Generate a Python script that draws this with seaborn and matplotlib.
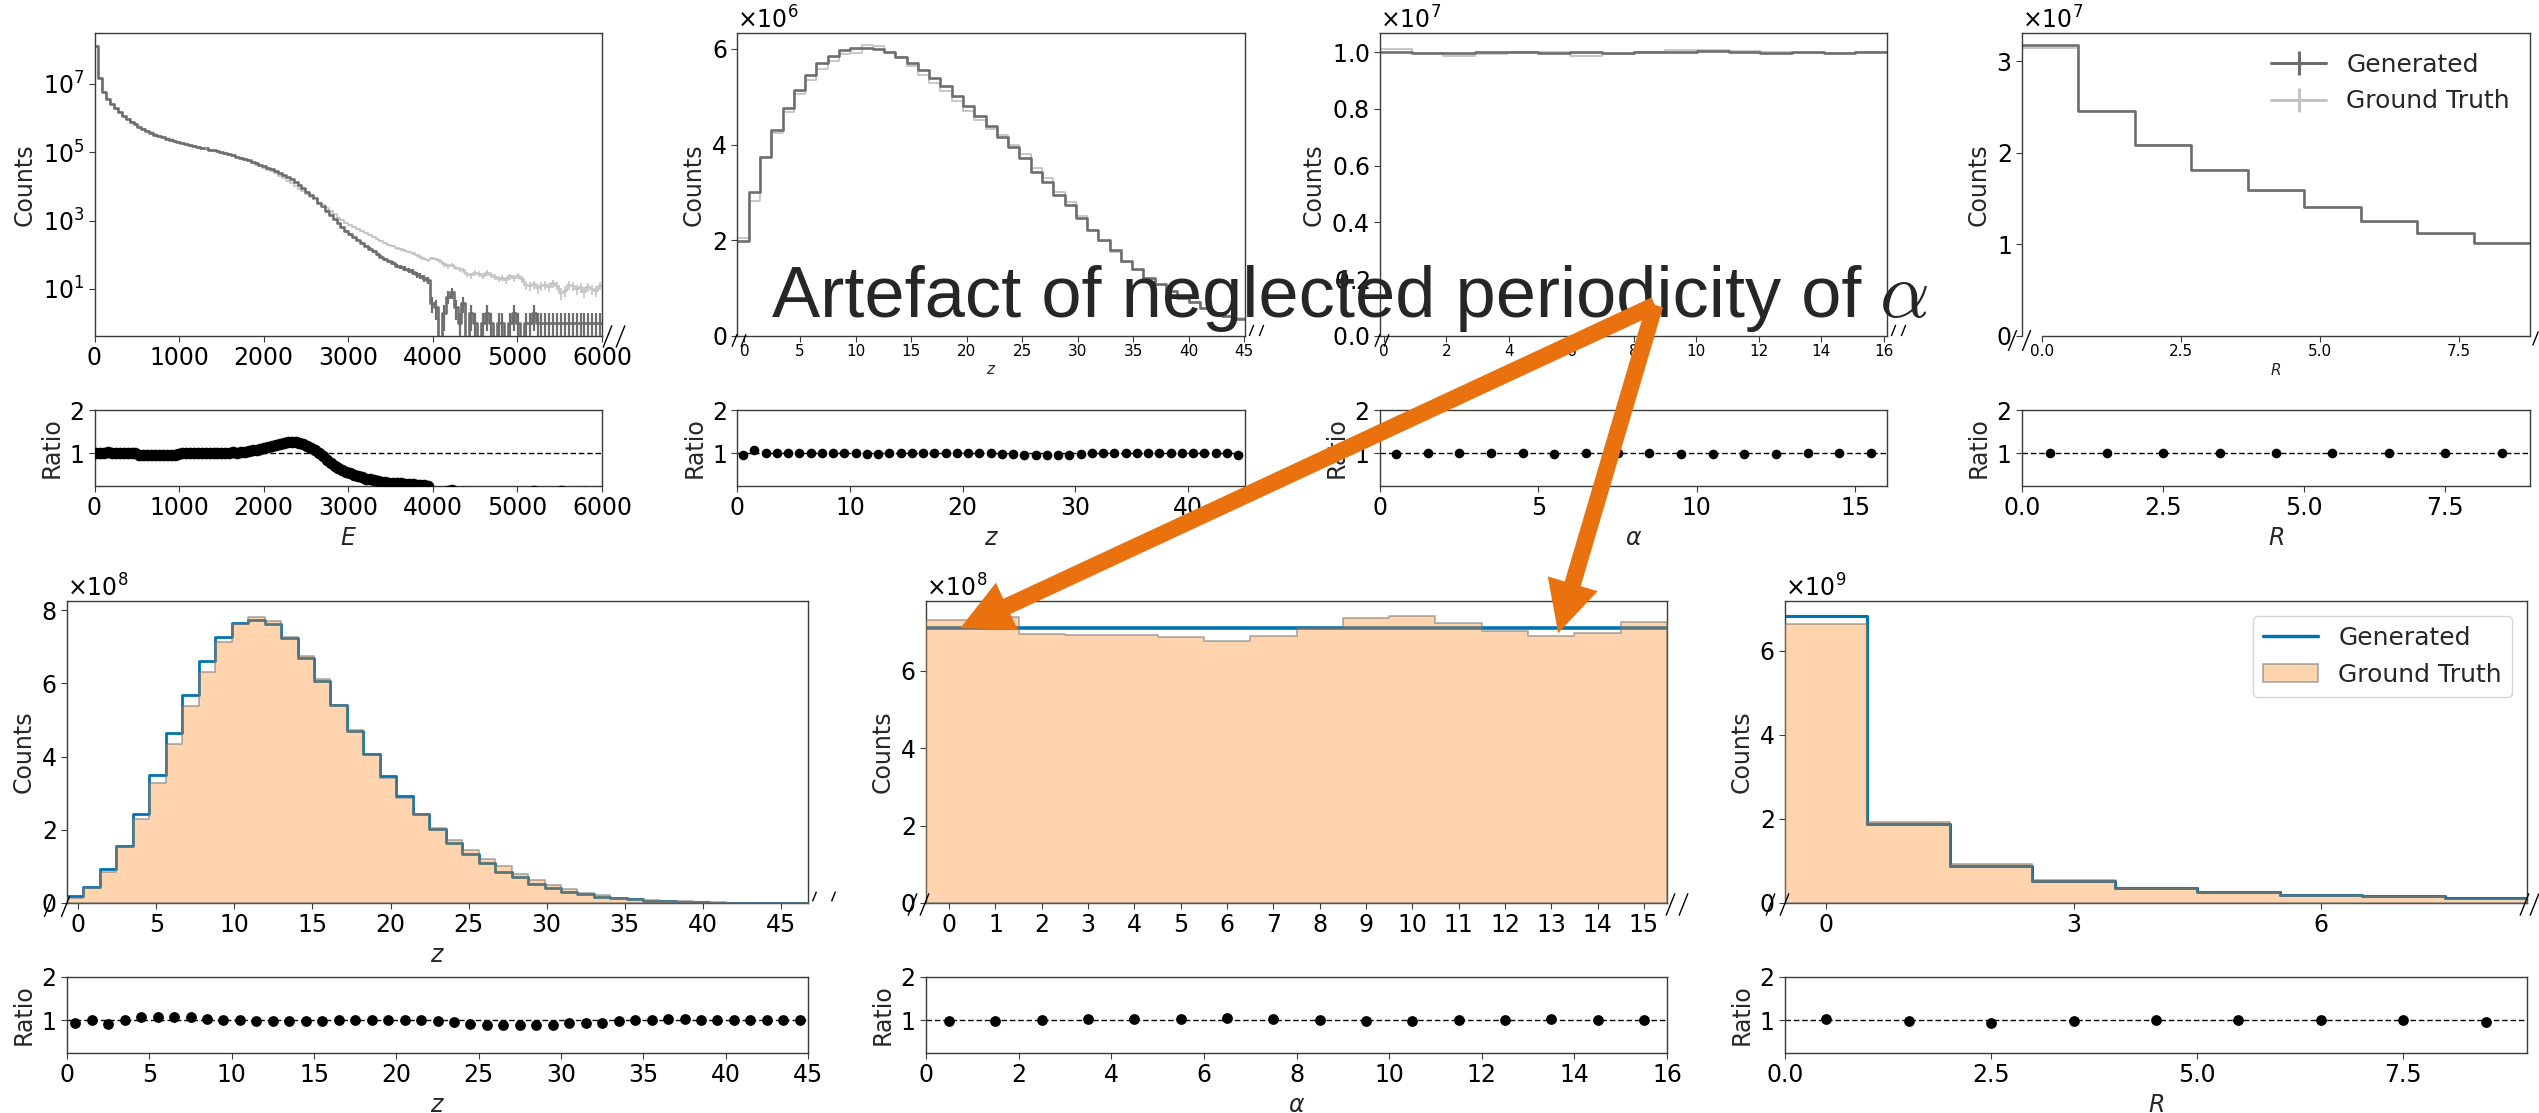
import numpy as np
import matplotlib
matplotlib.use("Agg")
import matplotlib.pyplot as plt
import matplotlib.transforms as mtransforms
from matplotlib.lines import Line2D
from matplotlib.patches import Patch
from matplotlib.ticker import MultipleLocator, FixedLocator, NullLocator
import seaborn as sns

# ------------------------------------------------------------------
# Data: binned counts of generated showers vs. ground truth
# ------------------------------------------------------------------
LABELS = ["Generated", "Ground Truth"]
HEADLINE = "Artefact of neglected periodicity of"

# Energy spectrum (log10 of ground-truth counts per bin, 0 .. 6000)
E_truth_log10 = [
    8.10, 7.17, 6.77, 6.55, 6.40, 6.28, 6.17, 6.06, 5.97, 5.89,
    5.82, 5.75, 5.69, 5.63, 5.58, 5.53, 5.49, 5.45, 5.41, 5.38,
    5.34, 5.30, 5.26, 5.23, 5.21, 5.18, 5.16, 5.13, 5.11, 5.08,
    5.05, 5.03, 4.99, 4.96, 4.93, 4.90, 4.86, 4.82, 4.78, 4.74,
    4.69, 4.64, 4.59, 4.54, 4.49, 4.44, 4.38, 4.31, 4.24, 4.17,
    4.10, 4.02, 3.94, 3.86, 3.78, 3.70, 3.62, 3.53, 3.45, 3.36,
    3.27, 3.18, 3.09, 3.01, 2.93, 2.87, 2.81, 2.75, 2.69, 2.63,
    2.58, 2.52, 2.45, 2.40, 2.34, 2.29, 2.25, 2.19, 2.16, 2.12,
    2.08, 2.04, 1.98, 1.94, 1.89, 1.84, 1.90, 1.87, 1.82, 1.72,
    1.66, 1.70, 1.62, 1.58, 1.55, 1.43, 1.40, 1.48, 1.45, 1.38,
    1.47, 1.42, 1.36, 1.30, 1.33, 1.25, 1.37, 1.31, 1.39, 1.28,
    1.12, 1.08, 1.14, 1.02, 1.08, 1.12, 1.06, 1.17, 1.10, 0.88,
    0.95, 1.12, 1.08, 1.00, 1.05, 0.92, 1.06, 1.00, 0.95, 1.10,
]
# generated / truth in the populated part of the spectrum
E_ratio = [
    1.02, 1.02, 1.02, 1.03, 1.02, 1.02, 1.02, 1.01, 1.02, 1.01,
    1.00, 0.97, 0.96, 0.96, 0.97, 0.96, 0.96, 0.97, 0.96, 0.97,
    0.97, 0.98, 1.00, 1.00, 1.01, 1.00, 1.00, 1.00, 1.01, 1.00,
    1.01, 1.01, 1.02, 1.02, 1.02, 1.03, 1.02, 1.03, 1.04, 1.05,
    1.07, 1.09, 1.11, 1.13, 1.15, 1.17, 1.20, 1.22, 1.24, 1.26,
    1.27, 1.26, 1.25, 1.22, 1.18, 1.13, 1.07, 1.00, 0.93, 0.85,
    0.79, 0.72, 0.67, 0.62, 0.58, 0.54, 0.50, 0.47, 0.45, 0.42,
    0.40, 0.38, 0.37, 0.35, 0.34, 0.33, 0.32, 0.31, 0.31, 0.30,
    0.29, 0.29, 0.28, 0.28, 0.27, 0.26,
]
# generated counts in the high-energy tail
E_gen_tail = [
    4, 3, 0, 2, 6, 8, 3, 1, 4, 0,
    2, 1, 0, 1, 2, 1, 0, 1, 1, 0,
    1, 2, 1, 0, 1, 1, 2, 1, 1, 1,
    1, 1, 1, 1, 1, 1, 1, 1, 1, 1,
    1, 1, 1, 1,
]
E_ticks = [0, 1000, 2000, 3000, 4000, 5000, 6000]
E_log_ticks = [1e1, 1e3, 1e5, 1e7]

# Layer z, first model (x 1e6)
z_top_gen = [1.99, 3.01, 3.74, 4.30, 4.76, 5.14, 5.45, 5.70, 5.85, 5.97,
             6.01, 6.01, 5.99, 5.94, 5.83, 5.70, 5.56, 5.40, 5.22, 5.01,
             4.80, 4.59, 4.38, 4.16, 3.95, 3.71, 3.43, 3.22, 2.94, 2.73,
             2.46, 2.22, 2.01, 1.80, 1.57, 1.40, 1.22, 1.08, 0.94, 0.80,
             0.70, 0.59, 0.49, 0.42, 0.35]
z_top_ratio = [0.97, 1.07, 1.00, 1.015, 1.015, 1.015, 1.02, 1.02, 1.02, 1.015,
               1.015, 0.99, 0.99, 1.00, 1.00, 1.01, 1.02, 1.02, 1.02, 1.02,
               1.02, 1.015, 1.015, 0.99, 0.99, 0.975, 0.975, 0.975, 0.975, 0.975,
               0.985, 1.00, 1.01, 1.02, 1.02, 1.02, 1.02, 1.02, 1.02, 1.00,
               1.00, 1.00, 1.00, 1.015, 0.955]

# Angle alpha, first model (x 1e7)
a_top_gen = [1.000, 0.997, 0.997, 1.000, 0.999, 0.998, 0.999, 0.997,
             1.000, 1.000, 1.002, 1.000, 0.998, 0.999, 0.997, 1.000]
a_top_truth = [1.012, 0.997, 0.985, 0.993, 1.000, 1.000, 0.987, 0.993,
               1.000, 1.008, 1.008, 1.005, 1.000, 0.997, 0.995, 1.001]

# Radius R, first model (x 1e7)
R_top_gen = [3.175, 2.46, 2.09, 1.81, 1.595, 1.41, 1.255, 1.12, 1.02]
R_top_ratio = [1.01, 1.00, 1.00, 1.00, 1.01, 1.00, 1.01, 1.01, 1.00]

# Layer z, second model (x 1e8)
z_gen = [0.19, 0.44, 0.93, 1.57, 2.44, 3.49, 4.65, 5.68, 6.60, 7.28,
         7.66, 7.73, 7.61, 7.23, 6.68, 6.07, 5.41, 4.71, 4.07, 3.46,
         2.93, 2.43, 2.01, 1.65, 1.35, 1.09, 0.85, 0.71, 0.53, 0.42,
         0.31, 0.24, 0.17, 0.13, 0.10, 0.06, 0.05, 0.03, 0.02, 0.012,
         0.008, 0.005, 0.003, 0.002, 0.001]
z_truth = [0.13, 0.42, 0.85, 1.53, 2.30, 3.29, 4.35, 5.39, 6.31, 7.13,
           7.61, 7.81, 7.69, 7.28, 6.74, 6.12, 5.41, 4.73, 4.04, 3.41,
           2.88, 2.44, 2.04, 1.72, 1.45, 1.21, 1.00, 0.80, 0.63, 0.48,
           0.37, 0.27, 0.21, 0.15, 0.12, 0.08, 0.06, 0.045, 0.03, 0.02,
           0.012, 0.007, 0.004, 0.002, 0.001]
z_ratio = [0.94, 1.00, 0.92, 1.02, 1.07, 1.07, 1.07, 1.07, 1.04, 1.01,
           1.02, 0.99, 0.99, 0.99, 0.99, 0.99, 1.00, 1.02, 1.02, 1.02,
           1.02, 1.02, 0.98, 0.96, 0.92, 0.89, 0.89, 0.89, 0.89, 0.89,
           0.93, 0.93, 0.95, 0.98, 1.00, 1.02, 1.04, 1.04, 1.02, 1.02,
           1.00, 1.00, 1.00, 1.02, 1.00]

# Angle alpha, second model (x 1e8)
a_gen = [7.10, 7.10, 7.10, 7.10, 7.10, 7.10, 7.10, 7.10,
         7.10, 7.10, 7.10, 7.10, 7.10, 7.10, 7.10, 7.10]
a_truth = [7.33, 7.40, 6.96, 6.92, 6.92, 6.89, 6.78, 6.90,
           7.11, 7.37, 7.42, 7.23, 7.03, 6.90, 6.98, 7.26]
a_ratio = [0.98, 0.98, 1.02, 1.03, 1.03, 1.03, 1.06, 1.04,
           1.00, 0.98, 0.98, 1.00, 1.02, 1.03, 1.02, 1.00]
a_ticks = list(range(16))

# Radius R, second model (x 1e9)
R_gen = [6.83, 1.87, 0.89, 0.52, 0.35, 0.27, 0.18, 0.16, 0.12]
R_truth = [6.64, 1.92, 0.92, 0.54, 0.36, 0.27, 0.20, 0.17, 0.10]
R_ratio = [1.04, 0.98, 0.95, 0.98, 1.02, 1.00, 1.00, 1.00, 0.97]

# ------------------------------------------------------------------
# Style
# ------------------------------------------------------------------
sns.set_style("ticks")
plt.rcParams.update({
    "font.family": ["DejaVu Sans"],
    "mathtext.fontset": "dejavusans",
    "font.size": 17,
    "axes.labelsize": 17,
    "xtick.labelsize": 17,
    "ytick.labelsize": 17,
    "legend.fontsize": 18,
    "axes.edgecolor": "#3a3a3a",
    "axes.linewidth": 1.0,
    "xtick.major.size": 4,
    "ytick.major.size": 4,
    "xtick.color": "#3a3a3a",
    "ytick.color": "#3a3a3a",
    "xtick.labelcolor": "black",
    "ytick.labelcolor": "black",
})

GEN_GRAY = "#6e6e6e"
TRUTH_GRAY = "#c4c4c4"
GEN_BLUE = "#0173b2"
TRUTH_ORANGE = "#ff7f0e"
ARROW_ORANGE = "#e9720f"

W, H = 2539, 1113
fig = plt.figure(figsize=(W / 100, H / 100), dpi=100)


def px_axes(x0, x1, y0, y1):
    return fig.add_axes([x0 / W, 1 - y1 / H, (x1 - x0) / W, (y1 - y0) / H])


def step_line(ax, edges, values, color, lw, zorder=2):
    centers = 0.5 * (edges[:-1] + edges[1:])
    sns.histplot(x=centers, weights=values, bins=list(edges), element="step",
                 fill=False, color=color, linewidth=lw, ax=ax, zorder=zorder)


def step_fill(ax, edges, values):
    centers = 0.5 * (edges[:-1] + edges[1:])
    sns.histplot(x=centers, weights=values, bins=list(edges), element="step",
                 fill=True, color=TRUTH_ORANGE, alpha=0.33,
                 edgecolor=(0.45, 0.45, 0.45, 0.55), linewidth=1.3,
                 ax=ax, zorder=3)


def linear_counts(ax, xlim, ylim, ystep, xticks):
    ax.set_xlim(xlim)
    ax.set_ylim(ylim)
    ax.yaxis.set_major_locator(MultipleLocator(ystep))
    ax.ticklabel_format(axis="y", style="sci", scilimits=(0, 0), useMathText=True)
    ax.set_xticks(xticks)
    ax.set_ylabel("Counts")


def ratio_panel(ax, x, r, xlim, xticks, xlabel, s):
    ax.axhline(1, color="k", lw=1.0, ls=(0, (4, 2)), zorder=1)
    sns.scatterplot(x=x, y=r, color="k", s=s, linewidth=0, ax=ax, zorder=3)
    ax.set_xlim(xlim)
    ax.set_ylim(0.25, 2)
    ax.set_yticks([1, 2])
    ax.set_xticks(xticks)
    ax.set_xlabel(xlabel)
    ax.set_ylabel("Ratio")


def break_marks(ax, side, offsets, dy=0, size=14):
    x = 0 if side == "left" else 1
    for dx in offsets:
        tr = ax.transAxes + mtransforms.ScaledTranslation(dx / 100, dy / 100, fig.dpi_scale_trans)
        ax.plot([x], [0], transform=tr, marker=[(-0.4, -1), (0.4, 1)], markersize=size,
                color="k", mew=1.0, ls="none", clip_on=False, zorder=5)


def small_x(ax, label):
    ax.tick_params(axis="x", labelsize=11, pad=2)
    ax.set_xlabel(label, fontsize=11, labelpad=2)


TOP_MAIN = (33, 336)
TOP_RATIO = (410, 486)
TOP_X = [(94.5, 602), (737.5, 1245), (1380, 1887), (2022, 2530)]
BOT_MAIN = (601, 903)
BOT_RATIO = (977, 1053)
BOT_X = [(67, 808), (926, 1667), (1785, 2527)]

# ------------------------------------------------------------------
# Top row, panel 1: energy spectrum (log scale)
# ------------------------------------------------------------------
E_edges = np.linspace(0, 6000, len(E_truth_log10) + 1)
E_centers = 0.5 * (E_edges[:-1] + E_edges[1:])
E_truth = 10 ** np.array(E_truth_log10)
E_gen = np.concatenate([E_truth[:len(E_ratio)] * np.array(E_ratio),
                        np.array(E_gen_tail, dtype=float)])

ax = px_axes(*TOP_X[0], *TOP_MAIN)
step_line(ax, E_edges, E_truth, TRUTH_GRAY, 1.3)
step_line(ax, E_edges, E_gen, GEN_GRAY, 1.9)
ax.errorbar(E_centers, E_truth, yerr=np.sqrt(E_truth), fmt="none",
            ecolor=TRUTH_GRAY, elinewidth=1.2, zorder=2)
ax.errorbar(E_centers, E_gen, yerr=np.sqrt(E_gen), fmt="none",
            ecolor=GEN_GRAY, elinewidth=1.6, zorder=3)
ax.set_yscale("log")
ax.set_xlim(0, 6000)
ax.set_ylim(0.42, 3.1e8)
ax.yaxis.set_major_locator(FixedLocator(E_log_ticks))
ax.yaxis.set_minor_locator(NullLocator())
ax.set_xticks(E_ticks)
ax.set_xlabel("")
ax.set_ylabel("Counts")
break_marks(ax, "right", [5, 18], dy=0, size=16)

axr = px_axes(*TOP_X[0], *TOP_RATIO)
ratio_panel(axr, E_centers, E_gen / E_truth, (0, 6000), E_ticks, "$E$", 70)

# ------------------------------------------------------------------
# Top row, panel 2: z
# ------------------------------------------------------------------
zt_gen = np.array(z_top_gen) * 1e6
zt_truth = zt_gen / np.array(z_top_ratio)
zt_edges = np.linspace(-0.63, 45.08, len(zt_gen) + 1)
ax = px_axes(*TOP_X[1], *TOP_MAIN)
step_line(ax, zt_edges, zt_truth, TRUTH_GRAY, 1.3)
step_line(ax, zt_edges, zt_gen, GEN_GRAY, 1.9)
linear_counts(ax, (-0.63, 45.08), (0, 6.33e6), 2e6, list(range(0, 46, 5)))
small_x(ax, "$z$")
break_marks(ax, "left", [-3, 6], dy=-4, size=9)
break_marks(ax, "right", [6, 16], dy=6, size=8)

axr = px_axes(*TOP_X[1], *TOP_RATIO)
ratio_panel(axr, np.arange(len(zt_gen)) + 0.5, z_top_ratio, (0, 45.1),
            [0, 10, 20, 30, 40], "$z$", 48)

# ------------------------------------------------------------------
# Top row, panel 3: alpha
# ------------------------------------------------------------------
at_gen = np.array(a_top_gen) * 1e7
at_truth = np.array(a_top_truth) * 1e7
at_edges = np.linspace(-0.12, 16.1, len(at_gen) + 1)
ax = px_axes(*TOP_X[2], *TOP_MAIN)
step_line(ax, at_edges, at_truth, TRUTH_GRAY, 1.3)
step_line(ax, at_edges, at_gen, GEN_GRAY, 1.9)
linear_counts(ax, (-0.12, 16.1), (0, 1.067e7), 0.2e7, list(range(0, 17, 2)))
small_x(ax, r"$\alpha$")
break_marks(ax, "left", [-3, 6], dy=-4, size=9)
break_marks(ax, "right", [6, 16], dy=6, size=8)

axr = px_axes(*TOP_X[2], *TOP_RATIO)
ratio_panel(axr, np.arange(len(at_gen)) + 0.5, at_gen / at_truth, (0, 16),
            [0, 5, 10, 15], r"$\alpha$", 48)

# ------------------------------------------------------------------
# Top row, panel 4: R
# ------------------------------------------------------------------
Rt_gen = np.array(R_top_gen) * 1e7
Rt_truth = Rt_gen / np.array(R_top_ratio)
Rt_edges = np.linspace(-0.36, 8.78, len(Rt_gen) + 1)
ax = px_axes(*TOP_X[3], *TOP_MAIN)
step_line(ax, Rt_edges, Rt_truth, TRUTH_GRAY, 1.3)
step_line(ax, Rt_edges, Rt_gen, GEN_GRAY, 1.9)
linear_counts(ax, (-0.36, 8.78), (0, 3.31e7), 1e7, [0, 2.5, 5, 7.5])
ax.spines["bottom"].set_bounds(0, 8.78)
small_x(ax, "$R$")
break_marks(ax, "left", [-10, 4], dy=-4, size=15)
break_marks(ax, "right", [5], dy=-2, size=10)
top_handles = [
    Line2D([], [], color=GEN_GRAY, lw=2.2, marker="|", markersize=17, mew=2.2),
    Line2D([], [], color=TRUTH_GRAY, lw=2.2, marker="|", markersize=17, mew=2.2),
]
ax.legend(top_handles, LABELS, loc="upper right", frameon=False,
          handlelength=2.2, borderaxespad=0.4)

axr = px_axes(*TOP_X[3], *TOP_RATIO)
ratio_panel(axr, np.arange(len(Rt_gen)) + 0.5, R_top_ratio, (0, 9),
            [0, 2.5, 5, 7.5], "$R$", 48)

# ------------------------------------------------------------------
# Bottom row, panel 1: z
# ------------------------------------------------------------------
zb_edges = np.linspace(-0.73, 46.75, len(z_gen) + 1)
ax = px_axes(*BOT_X[0], *BOT_MAIN)
step_line(ax, zb_edges, np.array(z_gen) * 1e8, GEN_BLUE, 2.0)
step_fill(ax, zb_edges, np.array(z_truth) * 1e8)
linear_counts(ax, (-0.73, 46.75), (0, 8.25e8), 2e8, list(range(0, 46, 5)))
ax.set_xlabel("$z$")
break_marks(ax, "left", [-19, -2], dy=-3, size=15)
break_marks(ax, "right", [6, 25], dy=7, size=7)

axr = px_axes(*BOT_X[0], *BOT_RATIO)
ratio_panel(axr, np.arange(len(z_gen)) + 0.5, z_ratio, (0, 45),
            list(range(0, 46, 5)), "$z$", 60)

# ------------------------------------------------------------------
# Bottom row, panel 2: alpha
# ------------------------------------------------------------------
ab_edges = np.linspace(-0.5, 15.5, len(a_gen) + 1)
ax_alpha = px_axes(*BOT_X[1], *BOT_MAIN)
step_line(ax_alpha, ab_edges, np.array(a_gen) * 1e8, GEN_BLUE, 2.6)
step_fill(ax_alpha, ab_edges, np.array(a_truth) * 1e8)
linear_counts(ax_alpha, (-0.5, 15.5), (0, 7.81e8), 2e8, a_ticks)
ax_alpha.set_xlabel("")
break_marks(ax_alpha, "left", [-14, -2], dy=-1, size=16)
break_marks(ax_alpha, "right", [3, 16], dy=-1, size=16)

axr = px_axes(*BOT_X[1], *BOT_RATIO)
ratio_panel(axr, np.arange(len(a_gen)) + 0.5, a_ratio, (0, 16),
            list(range(0, 17, 2)), r"$\alpha$", 60)

# ------------------------------------------------------------------
# Bottom row, panel 3: R
# ------------------------------------------------------------------
Rb_edges = np.linspace(-0.5, 8.5, len(R_gen) + 1)
ax = px_axes(*BOT_X[2], *BOT_MAIN)
step_line(ax, Rb_edges, np.array(R_gen) * 1e9, GEN_BLUE, 2.2)
step_fill(ax, Rb_edges, np.array(R_truth) * 1e9)
linear_counts(ax, (-0.5, 8.5), (0, 7.18e9), 2e9, [0, 3, 6])
ax.set_xlabel("")
break_marks(ax, "left", [-15, -1], dy=-1, size=16)
break_marks(ax, "right", [-3, 7], dy=-1, size=16)
bot_handles = [
    Line2D([], [], color=GEN_BLUE, lw=2.5),
    Patch(facecolor=(1.0, 0.5, 0.055, 0.33), edgecolor=(0.45, 0.45, 0.45, 0.55), lw=1.3),
]
ax.legend(bot_handles, LABELS, loc="upper right", handlelength=2.2,
          borderaxespad=0.6)

axr = px_axes(*BOT_X[2], *BOT_RATIO)
ratio_panel(axr, np.arange(len(R_gen)) + 0.5, R_ratio, (0, 9),
            [0, 2.5, 5, 7.5], "$R$", 60)

# ------------------------------------------------------------------
# Headline with arrows pointing at the alpha histogram edges
# ------------------------------------------------------------------
overlay = fig.add_axes([0, 0, 1, 1], facecolor="none", zorder=10)
overlay.set_axis_off()
overlay.set_xlim(0, W)
overlay.set_ylim(H, 0)
overlay.text(772, 317, HEADLINE, fontsize=52, family="Liberation Sans",
             ha="left", va="baseline", zorder=5)
overlay.text(1879, 317, r"$\alpha$", fontsize=56, math_fontfamily="cm",
             ha="left", va="baseline", zorder=5)

arrow_style = dict(arrowstyle="simple,head_length=3.7,head_width=3.75,tail_width=1.2",
                   mutation_scale=10, facecolor=ARROW_ORANGE, edgecolor="none",
                   lw=0, shrinkA=0, shrinkB=0)
for tip in [(0.24, 7.11e8), (13.15, 6.98e8)]:
    overlay.annotate("", xy=tip, xycoords=ax_alpha.transData,
                     xytext=(1655, 305), textcoords="data",
                     arrowprops=arrow_style, annotation_clip=False, zorder=6)

fig.savefig("out.png", dpi=100)
